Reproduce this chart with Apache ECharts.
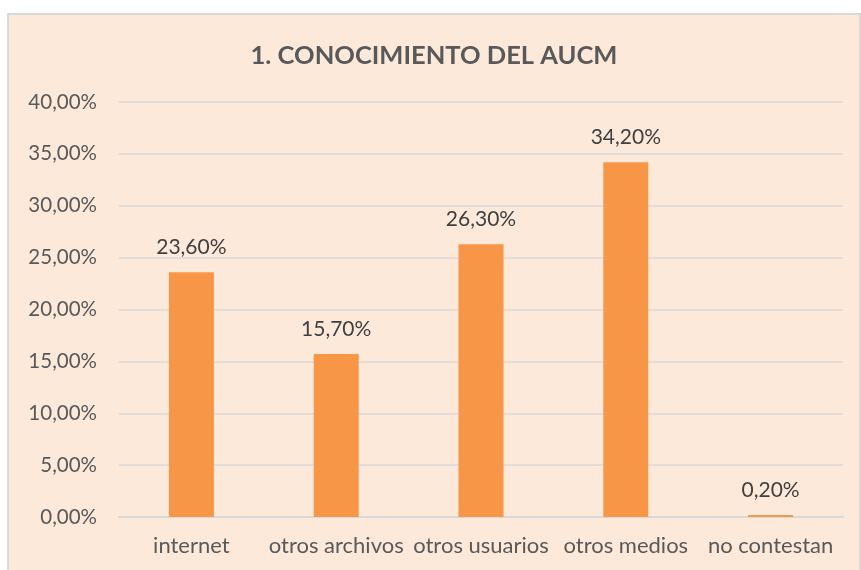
<!DOCTYPE html>
<html>
<head>
<meta charset="utf-8">
<script src="https://cdn.jsdelivr.net/npm/echarts@6/dist/echarts.min.js"></script>
<style>
html,body{margin:0;padding:0;background:#fff;width:861px;height:570px;overflow:hidden;}
#box{position:absolute;left:7px;top:13px;width:854px;height:562px;background:#FDE9DA;border:2px solid #D9D9D9;box-sizing:border-box;}
#chart{width:100%;height:100%;}
</style>
</head>
<body>
<div id="box"><div id="chart"></div></div>
<script>
const title = "1. CONOCIMIENTO DEL AUCM";
const categories = ["internet", "otros archivos", "otros usuarios", "otros medios", "no contestan"];
const values = [23.6, 15.7, 26.3, 34.2, 0.2];

const fmt = v => v.toFixed(2).replace('.', ',') + '%';
const font = "Lato, 'Open Sans', sans-serif";
const chart = echarts.init(document.getElementById('chart'));
chart.setOption({
  animation: false,
  title: {
    text: title, left: 'center', top: 23,
    textStyle: {fontFamily: font, fontSize: 25.5, fontWeight: 'bold', color: '#595959'}
  },
  grid: {left: 110, top: 87, width: 724, height: 415, containLabel: false},
  xAxis: {
    type: 'category', data: categories,
    axisLine: {lineStyle: {color: '#D9D9D9', width: 2}},
    axisTick: {show: false},
    axisLabel: {fontFamily: font, fontSize: 22, color: '#595959', margin: 18, interval: 0}
  },
  yAxis: {
    type: 'value', min: 0, max: 40, interval: 5,
    axisLine: {show: false}, axisTick: {show: false},
    splitLine: {lineStyle: {color: '#D9D9D9', width: 1.5}},
    axisLabel: {fontFamily: font, fontSize: 20.5, color: '#595959', margin: 22, formatter: fmt}
  },
  series: [{
    type: 'bar', data: values, barWidth: 45,
    itemStyle: {color: '#F79646'},
    label: {show: true, position: 'top', distance: 14, fontFamily: font, fontSize: 21, color: '#404040', formatter: p => fmt(p.value)}
  }]
});
</script>
</body>
</html>
